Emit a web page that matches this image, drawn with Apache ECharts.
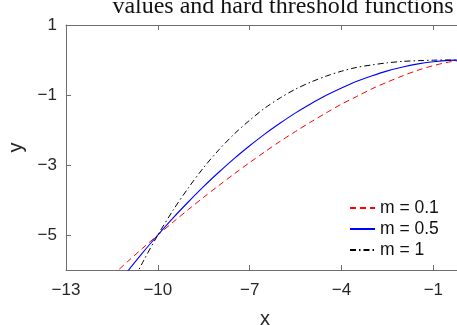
<!DOCTYPE html>
<html><head><meta charset="utf-8">
<script src="https://cdn.jsdelivr.net/npm/echarts@6/dist/echarts.min.js"></script>
<style>html,body{margin:0;padding:0;background:#fff}#c{width:457px;height:325px}</style>
</head><body><div id="c"></div>
<script>
const titleText = "values and hard threshold functions";
const xValues = [-11.5,-11,-10.5,-10,-9.5,-9,-8.5,-8,-7.5,-7,-6.5,-6,-5.5,-5,-4.5,-4,-3.5,-3,-2.5,-2,-1.5,-1,-0.5,0];
const yM01 = [-6.17,-5.77,-5.38,-5.00,-4.63,-4.27,-3.92,-3.58,-3.25,-2.93,-2.62,-2.32,-2.04,-1.77,-1.51,-1.26,-1.04,-0.82,-0.63,-0.45,-0.29,-0.16,-0.06,0];
const yM05 = [-6.61,-6.05,-5.51,-5.00,-4.51,-4.05,-3.61,-3.20,-2.81,-2.45,-2.11,-1.80,-1.51,-1.25,-1.01,-0.80,-0.61,-0.45,-0.31,-0.20,-0.11,-0.05,-0.01,0];
const yM1  = [-7.60,-6.66,-5.79,-5.00,-4.29,-3.65,-3.07,-2.56,-2.11,-1.72,-1.37,-1.08,-0.83,-0.63,-0.46,-0.32,-0.21,-0.14,-0.08,-0.04,-0.02,-0.005,0,0];
const seriesNames = ["m = 0.1","m = 0.5","m = 1"];
const xTicks = [-13,-10,-7,-4,-1];
const yTicks = [1,-1,-3,-5];

const pair = ys => xValues.map((x,i)=>[x, ys[i]]);
const fmt = v => String(v).replace('-', '\u2212');
const axisCol = '#6e6e6e', txtCol = '#262626';
const chart = echarts.init(document.getElementById('c'));
chart.setOption({
  animation:false,
  title:{text:titleText, left:278, top:-10, textAlign:'center',
    textStyle:{fontFamily:'Liberation Serif', fontWeight:'normal', fontSize:24, color:'#111'}},
  grid:{left:66, top:25, bottom:55, right:-7, containLabel:false, outerBoundsMode:'none'},
  legend:{orient:'vertical', left:349, top:198, itemWidth:25, itemHeight:14, itemGap:1, itemSpacing:6,
    padding:[0,0,0,0],
    itemStyle:{opacity:0},
    textStyle:{fontFamily:'Liberation Sans', fontSize:17.5, lineHeight:20, color:'#111'},
    data:seriesNames},
  xAxis:[{type:'value', min:-13, max:0, name:'x', nameLocation:'middle', nameGap:39,
    nameTextStyle:{fontFamily:'Liberation Sans', fontSize:20, color:txtCol},
    axisLine:{onZero:false, lineStyle:{color:axisCol}},
    axisTick:{inside:true, length:5, customValues:xTicks, lineStyle:{color:axisCol}},
    axisLabel:{customValues:xTicks, formatter:fmt, margin:12, fontFamily:'Liberation Sans', fontSize:17, color:txtCol},
    splitLine:{show:false}},
   {type:'value', position:'top', min:-13, max:0,
    axisLine:{onZero:false, lineStyle:{color:axisCol}},
    axisTick:{inside:true, length:5, customValues:xTicks, lineStyle:{color:axisCol}},
    axisLabel:{show:false}, splitLine:{show:false}}],
  yAxis:{type:'value', min:-6, max:1, name:'y', nameLocation:'middle', nameGap:36,
    nameTextStyle:{fontFamily:'Liberation Sans', fontSize:20, color:txtCol},
    axisLine:{show:true, onZero:false, lineStyle:{color:axisCol}},
    axisTick:{show:true, inside:true, length:5, customValues:yTicks, lineStyle:{color:axisCol}},
    axisLabel:{customValues:yTicks, formatter:fmt, margin:9, fontFamily:'Liberation Sans', fontSize:17, color:txtCol},
    splitLine:{show:false}},
  series:[
    {name:seriesNames[0], type:'line', data:pair(yM01), smooth:0.3, symbol:'none', clip:true,
      color:'#ff0000', lineStyle:{color:'#ff0000', width:1, type:[6,4]}},
    {name:seriesNames[1], type:'line', data:pair(yM05), smooth:0.3, symbol:'none', clip:true,
      color:'#0000ff', lineStyle:{color:'#0000ff', width:1.1, type:'solid'}},
    {name:seriesNames[2], type:'line', data:pair(yM1), smooth:0.3, symbol:'none', clip:true,
      color:'#000000', lineStyle:{color:'#000000', width:1, type:[6,3,1.5,3]}}
  ]
});
</script></body></html>
